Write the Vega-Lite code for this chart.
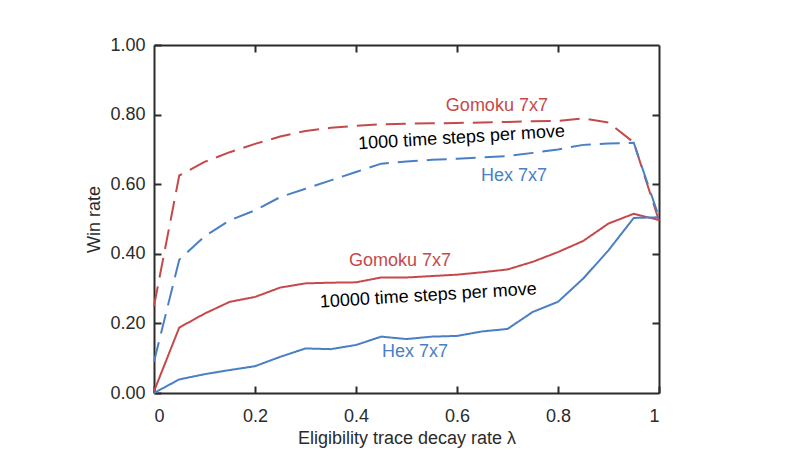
{
  "$schema": "https://vega.github.io/schema/vega-lite/v6.json",
  "autosize": "none",
  "width": 505,
  "height": 348,
  "padding": {"left": 154, "top": 45, "right": 128, "bottom": 65},
  "background": "white",
  "config": {
    "font": "Liberation Sans",
    "view": {"stroke": null},
    "axis": {
      "grid": false,
      "domainColor": "#2b2b2b",
      "domainWidth": 2,
      "ticks": true,
      "tickColor": "#2b2b2b",
      "tickWidth": 2,
      "labelFont": "Liberation Sans",
      "labelFontSize": 18,
      "labelColor": "#2b2b2b",
      "titleFont": "Liberation Sans",
      "titleFontSize": 18,
      "titleFontWeight": "normal",
      "titleColor": "#2b2b2b"
    }
  },
  "datasets": {
    "series": [
      {"lambda": 0, "rate": 0.25, "game": "Gomoku 7x7", "steps": "1000"},
      {"lambda": 0.05, "rate": 0.625, "game": "Gomoku 7x7", "steps": "1000"},
      {"lambda": 0.1, "rate": 0.664, "game": "Gomoku 7x7", "steps": "1000"},
      {"lambda": 0.15, "rate": 0.692, "game": "Gomoku 7x7", "steps": "1000"},
      {"lambda": 0.2, "rate": 0.716, "game": "Gomoku 7x7", "steps": "1000"},
      {"lambda": 0.25, "rate": 0.737, "game": "Gomoku 7x7", "steps": "1000"},
      {"lambda": 0.3, "rate": 0.753, "game": "Gomoku 7x7", "steps": "1000"},
      {"lambda": 0.35, "rate": 0.762, "game": "Gomoku 7x7", "steps": "1000"},
      {"lambda": 0.4, "rate": 0.768, "game": "Gomoku 7x7", "steps": "1000"},
      {"lambda": 0.45, "rate": 0.772, "game": "Gomoku 7x7", "steps": "1000"},
      {"lambda": 0.5, "rate": 0.774, "game": "Gomoku 7x7", "steps": "1000"},
      {"lambda": 0.55, "rate": 0.775, "game": "Gomoku 7x7", "steps": "1000"},
      {"lambda": 0.6, "rate": 0.776, "game": "Gomoku 7x7", "steps": "1000"},
      {"lambda": 0.65, "rate": 0.777, "game": "Gomoku 7x7", "steps": "1000"},
      {"lambda": 0.7, "rate": 0.779, "game": "Gomoku 7x7", "steps": "1000"},
      {"lambda": 0.75, "rate": 0.781, "game": "Gomoku 7x7", "steps": "1000"},
      {"lambda": 0.8, "rate": 0.782, "game": "Gomoku 7x7", "steps": "1000"},
      {"lambda": 0.85, "rate": 0.789, "game": "Gomoku 7x7", "steps": "1000"},
      {"lambda": 0.9, "rate": 0.777, "game": "Gomoku 7x7", "steps": "1000"},
      {"lambda": 0.95, "rate": 0.72, "game": "Gomoku 7x7", "steps": "1000"},
      {"lambda": 1, "rate": 0.495, "game": "Gomoku 7x7", "steps": "1000"},
      {"lambda": 0, "rate": 0.09, "game": "Hex 7x7", "steps": "1000"},
      {"lambda": 0.05, "rate": 0.383, "game": "Hex 7x7", "steps": "1000"},
      {"lambda": 0.1, "rate": 0.45, "game": "Hex 7x7", "steps": "1000"},
      {"lambda": 0.15, "rate": 0.496, "game": "Hex 7x7", "steps": "1000"},
      {"lambda": 0.2, "rate": 0.525, "game": "Hex 7x7", "steps": "1000"},
      {"lambda": 0.25, "rate": 0.563, "game": "Hex 7x7", "steps": "1000"},
      {"lambda": 0.3, "rate": 0.587, "game": "Hex 7x7", "steps": "1000"},
      {"lambda": 0.35, "rate": 0.611, "game": "Hex 7x7", "steps": "1000"},
      {"lambda": 0.4, "rate": 0.635, "game": "Hex 7x7", "steps": "1000"},
      {"lambda": 0.45, "rate": 0.659, "game": "Hex 7x7", "steps": "1000"},
      {"lambda": 0.5, "rate": 0.665, "game": "Hex 7x7", "steps": "1000"},
      {"lambda": 0.55, "rate": 0.67, "game": "Hex 7x7", "steps": "1000"},
      {"lambda": 0.6, "rate": 0.673, "game": "Hex 7x7", "steps": "1000"},
      {"lambda": 0.65, "rate": 0.677, "game": "Hex 7x7", "steps": "1000"},
      {"lambda": 0.7, "rate": 0.681, "game": "Hex 7x7", "steps": "1000"},
      {"lambda": 0.75, "rate": 0.69, "game": "Hex 7x7", "steps": "1000"},
      {"lambda": 0.8, "rate": 0.7, "game": "Hex 7x7", "steps": "1000"},
      {"lambda": 0.85, "rate": 0.713, "game": "Hex 7x7", "steps": "1000"},
      {"lambda": 0.9, "rate": 0.717, "game": "Hex 7x7", "steps": "1000"},
      {"lambda": 0.95, "rate": 0.719, "game": "Hex 7x7", "steps": "1000"},
      {"lambda": 1, "rate": 0.505, "game": "Hex 7x7", "steps": "1000"},
      {"lambda": 0, "rate": 0.005, "game": "Gomoku 7x7", "steps": "10000"},
      {"lambda": 0.05, "rate": 0.188, "game": "Gomoku 7x7", "steps": "10000"},
      {"lambda": 0.1, "rate": 0.228, "game": "Gomoku 7x7", "steps": "10000"},
      {"lambda": 0.15, "rate": 0.262, "game": "Gomoku 7x7", "steps": "10000"},
      {"lambda": 0.2, "rate": 0.276, "game": "Gomoku 7x7", "steps": "10000"},
      {"lambda": 0.25, "rate": 0.303, "game": "Gomoku 7x7", "steps": "10000"},
      {"lambda": 0.3, "rate": 0.315, "game": "Gomoku 7x7", "steps": "10000"},
      {"lambda": 0.35, "rate": 0.317, "game": "Gomoku 7x7", "steps": "10000"},
      {"lambda": 0.4, "rate": 0.318, "game": "Gomoku 7x7", "steps": "10000"},
      {"lambda": 0.45, "rate": 0.332, "game": "Gomoku 7x7", "steps": "10000"},
      {"lambda": 0.5, "rate": 0.332, "game": "Gomoku 7x7", "steps": "10000"},
      {"lambda": 0.55, "rate": 0.336, "game": "Gomoku 7x7", "steps": "10000"},
      {"lambda": 0.6, "rate": 0.34, "game": "Gomoku 7x7", "steps": "10000"},
      {"lambda": 0.65, "rate": 0.347, "game": "Gomoku 7x7", "steps": "10000"},
      {"lambda": 0.7, "rate": 0.355, "game": "Gomoku 7x7", "steps": "10000"},
      {"lambda": 0.75, "rate": 0.377, "game": "Gomoku 7x7", "steps": "10000"},
      {"lambda": 0.8, "rate": 0.405, "game": "Gomoku 7x7", "steps": "10000"},
      {"lambda": 0.85, "rate": 0.437, "game": "Gomoku 7x7", "steps": "10000"},
      {"lambda": 0.9, "rate": 0.487, "game": "Gomoku 7x7", "steps": "10000"},
      {"lambda": 0.95, "rate": 0.515, "game": "Gomoku 7x7", "steps": "10000"},
      {"lambda": 1, "rate": 0.497, "game": "Gomoku 7x7", "steps": "10000"},
      {"lambda": 0, "rate": 0.0, "game": "Hex 7x7", "steps": "10000"},
      {"lambda": 0.05, "rate": 0.039, "game": "Hex 7x7", "steps": "10000"},
      {"lambda": 0.1, "rate": 0.054, "game": "Hex 7x7", "steps": "10000"},
      {"lambda": 0.15, "rate": 0.066, "game": "Hex 7x7", "steps": "10000"},
      {"lambda": 0.2, "rate": 0.077, "game": "Hex 7x7", "steps": "10000"},
      {"lambda": 0.25, "rate": 0.104, "game": "Hex 7x7", "steps": "10000"},
      {"lambda": 0.3, "rate": 0.128, "game": "Hex 7x7", "steps": "10000"},
      {"lambda": 0.35, "rate": 0.126, "game": "Hex 7x7", "steps": "10000"},
      {"lambda": 0.4, "rate": 0.138, "game": "Hex 7x7", "steps": "10000"},
      {"lambda": 0.45, "rate": 0.162, "game": "Hex 7x7", "steps": "10000"},
      {"lambda": 0.5, "rate": 0.155, "game": "Hex 7x7", "steps": "10000"},
      {"lambda": 0.55, "rate": 0.162, "game": "Hex 7x7", "steps": "10000"},
      {"lambda": 0.6, "rate": 0.164, "game": "Hex 7x7", "steps": "10000"},
      {"lambda": 0.65, "rate": 0.177, "game": "Hex 7x7", "steps": "10000"},
      {"lambda": 0.7, "rate": 0.184, "game": "Hex 7x7", "steps": "10000"},
      {"lambda": 0.75, "rate": 0.233, "game": "Hex 7x7", "steps": "10000"},
      {"lambda": 0.8, "rate": 0.262, "game": "Hex 7x7", "steps": "10000"},
      {"lambda": 0.85, "rate": 0.329, "game": "Hex 7x7", "steps": "10000"},
      {"lambda": 0.9, "rate": 0.41, "game": "Hex 7x7", "steps": "10000"},
      {"lambda": 0.95, "rate": 0.503, "game": "Hex 7x7", "steps": "10000"},
      {"lambda": 1, "rate": 0.505, "game": "Hex 7x7", "steps": "10000"}
    ],
    "gameLabels": [
      {"lambda": 0.679, "rate": 0.826, "game": "Gomoku 7x7", "label": "Gomoku 7x7"},
      {"lambda": 0.713, "rate": 0.623, "game": "Hex 7x7", "label": "Hex 7x7"},
      {"lambda": 0.487, "rate": 0.379, "game": "Gomoku 7x7", "label": "Gomoku 7x7"},
      {"lambda": 0.517, "rate": 0.118, "game": "Hex 7x7", "label": "Hex 7x7"}
    ],
    "stepLabels": [
      {"lambda": 0.609, "rate": 0.733, "label": "1000 time steps per move"},
      {"lambda": 0.543, "rate": 0.279, "label": "10000 time steps per move"}
    ]
  },
  "resolve": {"axis": {"x": "independent", "y": "independent"}},
  "layer": [
    {
      "data": {"name": "series"},
      "mark": {"type": "line", "strokeWidth": 2},
      "encoding": {
        "x": {"field": "lambda", "type": "quantitative",
              "scale": {"domain": [0, 1], "nice": false},
              "axis": {"orient": "bottom", "values": [0, 0.2, 0.4, 0.6, 0.8, 1], "format": "~g", "tickSize": -7,
                       "title": "Eligibility trace decay rate λ", "labelPadding": 21, "titlePadding": 4}},
        "y": {"field": "rate", "type": "quantitative",
              "scale": {"domain": [0, 1], "nice": false},
              "axis": {"orient": "left", "values": [0, 0.2, 0.4, 0.6, 0.8, 1], "format": ".2f", "tickSize": -7,
                       "title": "Win rate", "labelPadding": 16, "titlePadding": 6}},
        "color": {"field": "game", "type": "nominal",
                  "scale": {"domain": ["Gomoku 7x7", "Hex 7x7"], "range": ["#c5494b", "#4a7fc4"]},
                  "legend": null},
        "strokeDash": {"field": "steps", "type": "nominal",
                       "scale": {"domain": ["1000", "10000"], "range": [[20, 9], [1, 0]]},
                       "legend": null},
        "detail": {"field": "steps"}
      }
    },
    {
      "data": {"name": "gameLabels"},
      "mark": {"type": "text", "fontSize": 18, "font": "Liberation Sans", "align": "center", "baseline": "middle"},
      "encoding": {
        "x": {"field": "lambda", "type": "quantitative",
              "axis": {"orient": "top", "values": [0.2, 0.4, 0.6, 0.8], "labels": false, "title": null, "tickSize": -7}},
        "y": {"field": "rate", "type": "quantitative",
              "axis": {"orient": "right", "values": [0.2, 0.4, 0.6, 0.8], "labels": false, "title": null, "tickSize": -7}},
        "color": {"field": "game", "type": "nominal", "legend": null},
        "text": {"field": "label"}
      }
    },
    {
      "data": {"name": "stepLabels"},
      "mark": {"type": "text", "fontSize": 18, "font": "Liberation Sans", "align": "center", "baseline": "middle", "angle": -3.5, "color": "black"},
      "encoding": {
        "x": {"field": "lambda", "type": "quantitative", "axis": null},
        "y": {"field": "rate", "type": "quantitative", "axis": null},
        "text": {"field": "label"}
      }
    }
  ]
}
